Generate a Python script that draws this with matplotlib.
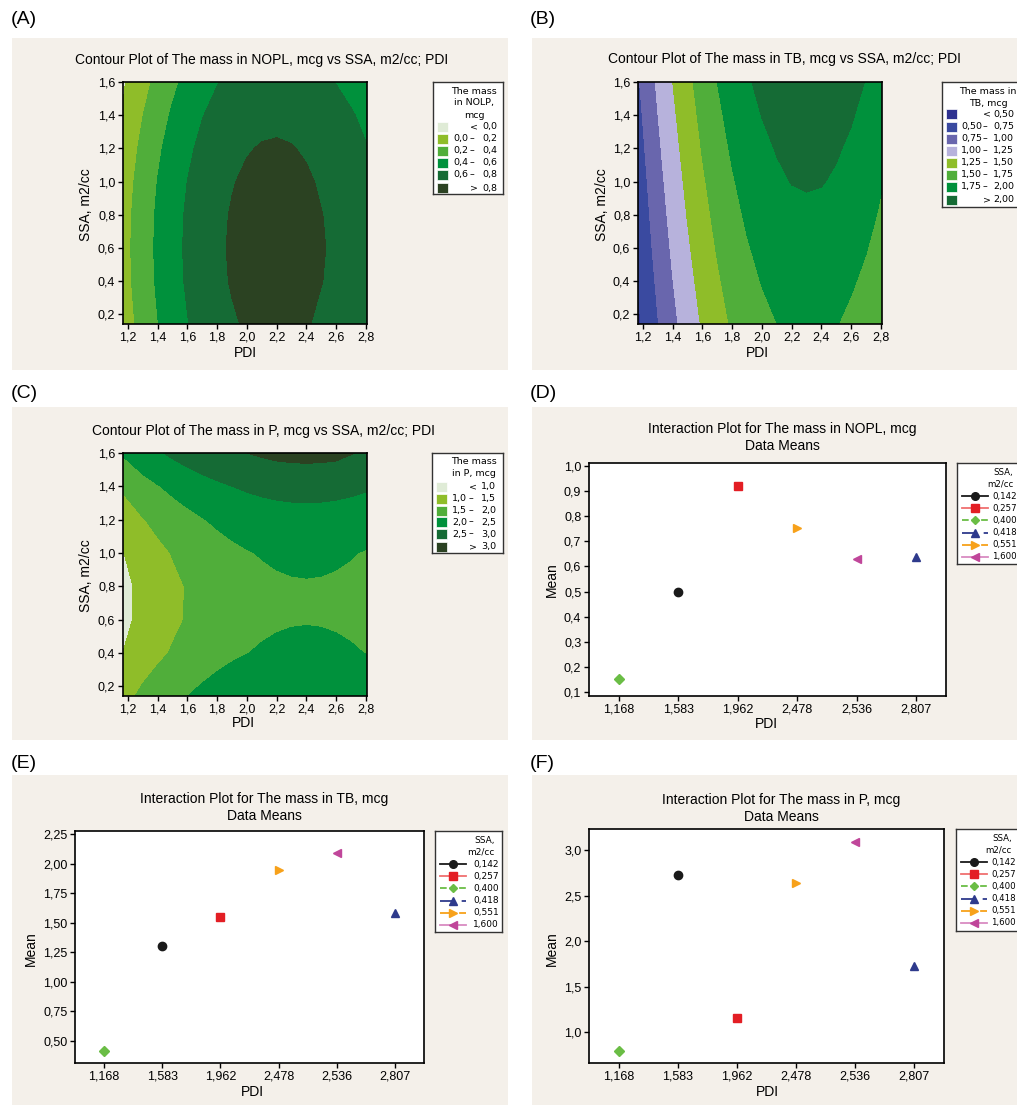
import numpy as np
import matplotlib.pyplot as plt
from matplotlib.patches import Rectangle
from matplotlib.lines import Line2D

W, H = 1017, 1106

# ---- contour surfaces on a grid ----
pdi_grid = [1.168, 1.3, 1.4, 1.5, 1.6, 1.7, 1.8, 1.9, 2.0,
            2.1, 2.2, 2.3, 2.4, 2.5, 2.6, 2.7, 2.807]
ssa_grid = [0.142, 0.4, 0.6, 0.8, 1.0, 1.2, 1.4, 1.6]

nopl_grid = [
    [0.091, 0.273, 0.394, 0.500, 0.592, 0.670, 0.733, 0.782, 0.817, 0.837, 0.843, 0.834, 0.811, 0.774, 0.737, 0.691, 0.630],
    [0.121, 0.303, 0.424, 0.530, 0.622, 0.700, 0.763, 0.812, 0.847, 0.867, 0.873, 0.864, 0.841, 0.804, 0.767, 0.721, 0.645],
    [0.128, 0.310, 0.431, 0.537, 0.629, 0.707, 0.770, 0.819, 0.854, 0.874, 0.880, 0.871, 0.848, 0.811, 0.774, 0.728, 0.650],
    [0.121, 0.303, 0.424, 0.530, 0.622, 0.700, 0.763, 0.812, 0.847, 0.867, 0.873, 0.864, 0.841, 0.804, 0.767, 0.721, 0.650],
    [0.100, 0.282, 0.403, 0.509, 0.601, 0.679, 0.742, 0.791, 0.826, 0.846, 0.852, 0.843, 0.820, 0.783, 0.746, 0.700, 0.640],
    [0.064, 0.246, 0.367, 0.473, 0.565, 0.643, 0.706, 0.755, 0.790, 0.810, 0.816, 0.807, 0.784, 0.747, 0.710, 0.664, 0.605],
    [0.014, 0.196, 0.317, 0.423, 0.515, 0.593, 0.656, 0.705, 0.740, 0.760, 0.766, 0.757, 0.734, 0.697, 0.660, 0.614, 0.560],
    [-0.02, 0.132, 0.253, 0.359, 0.451, 0.529, 0.592, 0.641, 0.676, 0.696, 0.702, 0.693, 0.670, 0.633, 0.595, 0.550, 0.500],
]
tb_grid = [
    [0.460, 0.737, 0.936, 1.114, 1.272, 1.409, 1.525, 1.620, 1.695, 1.748, 1.781, 1.794, 1.786, 1.757, 1.707, 1.642, 1.550],
    [0.510, 0.791, 0.992, 1.172, 1.331, 1.469, 1.587, 1.683, 1.758, 1.813, 1.846, 1.859, 1.851, 1.821, 1.771, 1.710, 1.620],
    [0.545, 0.832, 1.035, 1.216, 1.377, 1.516, 1.634, 1.731, 1.808, 1.862, 1.896, 1.909, 1.900, 1.871, 1.820, 1.759, 1.670],
    [0.575, 0.873, 1.077, 1.260, 1.422, 1.563, 1.682, 1.780, 1.857, 1.912, 1.946, 1.959, 1.950, 1.921, 1.869, 1.809, 1.720],
    [0.607, 0.912, 1.119, 1.304, 1.467, 1.609, 1.729, 1.828, 1.906, 1.967, 2.006, 2.019, 2.010, 1.975, 1.919, 1.853, 1.760],
    [0.645, 0.953, 1.161, 1.348, 1.513, 1.656, 1.777, 1.877, 1.955, 2.011, 2.046, 2.059, 2.050, 2.020, 1.968, 1.899, 1.800],
    [0.684, 0.994, 1.204, 1.392, 1.558, 1.702, 1.825, 1.925, 2.004, 2.061, 2.096, 2.109, 2.100, 2.070, 2.017, 1.943, 1.840],
    [0.725, 1.037, 1.248, 1.437, 1.605, 1.750, 1.873, 1.974, 2.053, 2.111, 2.146, 2.159, 2.150, 2.119, 2.067, 1.992, 1.880],
]
p_grid = [
    [1.344, 1.597, 1.744, 1.877, 1.996, 2.101, 2.192, 2.269, 2.332, 2.381, 2.416, 2.437, 2.444, 2.437, 2.416, 2.381, 2.328],
    [1.004, 1.257, 1.404, 1.537, 1.656, 1.761, 1.852, 1.929, 1.992, 2.041, 2.076, 2.097, 2.104, 2.097, 2.076, 2.041, 1.988],
    [0.878, 1.131, 1.278, 1.411, 1.530, 1.635, 1.726, 1.803, 1.866, 1.915, 1.950, 1.971, 1.978, 1.971, 1.950, 1.915, 1.862],
    [0.872, 1.125, 1.272, 1.405, 1.524, 1.629, 1.720, 1.797, 1.860, 1.909, 1.944, 1.965, 1.972, 1.965, 1.944, 1.909, 1.856],
    [0.986, 1.239, 1.386, 1.519, 1.638, 1.743, 1.834, 1.911, 1.974, 2.023, 2.058, 2.079, 2.086, 2.079, 2.058, 2.023, 1.970],
    [1.220, 1.473, 1.620, 1.753, 1.872, 1.977, 2.068, 2.145, 2.208, 2.257, 2.292, 2.313, 2.320, 2.313, 2.292, 2.257, 2.204],
    [1.574, 1.827, 1.974, 2.107, 2.226, 2.331, 2.422, 2.499, 2.562, 2.611, 2.646, 2.667, 2.674, 2.667, 2.646, 2.611, 2.558],
    [2.048, 2.301, 2.448, 2.581, 2.700, 2.805, 2.880, 2.950, 3.000, 3.060, 3.110, 3.135, 3.145, 3.135, 3.110, 3.020, 2.930],
]

nopl_levels = [0.0, 0.2, 0.4, 0.6, 0.8]
tb_levels = [0.50, 0.75, 1.00, 1.25, 1.50, 1.75, 2.00]
p_levels = [1.0, 1.5, 2.0, 2.5, 3.0]

green_colors = ['#dfebd6', '#8fbd29', '#50ae3a', '#00913c', '#156b35', '#2b4222']
tb_colors = ['#2e3190', '#3a4aa0', '#6966ad', '#b7b2dc', '#8fbd29', '#50ae3a', '#00913c', '#156b35']

# ---- interaction plot means ----
pdi_labels = ['1,168', '1,583', '1,962', '2,478', '2,536', '2,807']
ssa_labels = ['0,142', '0,257', '0,400', '0,418', '0,551', '1,600']
ssa_pdi_pos = [2, 3, 1, 6, 4, 5]   # which PDI level each SSA level sits at
nopl_means = [0.50, 0.92, 0.15, 0.637, 0.755, 0.628]
tb_means = [1.30, 1.553, 0.413, 1.584, 1.951, 2.089]
p_means = [2.733, 1.158, 0.791, 1.733, 2.645, 3.095]

marker_colors = ['#1a1a1a', '#e31e24', '#6abd45', '#2e3a8c', '#f7a11a', '#c0469a']
line_colors = ['#1a1a1a', '#f07070', '#6abd45', '#2e3a8c', '#f7a11a', '#d98bc2']
markers = ['o', 's', 'D', '^', '>', '<']
marker_sizes = [6, 6, 5, 6, 6, 6]
line_styles = ['-', '-', '--', (0, (8, 4)), '-.', '-']

BG = '#f4f0ea'
plt.rcParams['font.family'] = ['Liberation Sans', 'DejaVu Sans']


def box(x0, y0, x1, y1):
    return [x0 / W, 1 - y1 / H, (x1 - x0) / W, (y1 - y0) / H]


def ftext(fig, x, y, s, **kw):
    fig.text(x / W, 1 - y / H, s, **kw)


def comma(v, nd):
    return f"{v:.{nd}f}".replace('.', ',')


def style_axes(ax):
    for sp in ax.spines.values():
        sp.set_linewidth(1.2)
    ax.tick_params(labelsize=9, length=3.5, width=1, direction='out', pad=2)


def contour_panel(fig, rect, grid, levels, colors):
    ax = fig.add_axes(box(*rect))
    X, Y = np.meshgrid(pdi_grid, ssa_grid)
    ax.contourf(X, Y, np.array(grid), levels=levels, colors=colors, extend='both')
    ax.set_xlim(1.168, 2.807)
    ax.set_ylim(0.142, 1.6)
    xt = np.arange(1.2, 2.81, 0.2)
    yt = np.arange(0.2, 1.61, 0.2)
    ax.set_xticks(xt)
    ax.set_xticklabels([comma(v, 1) for v in xt])
    ax.set_yticks(yt)
    ax.set_yticklabels([comma(v, 1) for v in yt])
    style_axes(ax)
    return ax


def legend_axes(fig, rect):
    x0, y0, x1, y1 = rect
    ax = fig.add_axes(box(*rect))
    ax.set_xlim(0, x1 - x0)
    ax.set_ylim(y1 - y0, 0)
    ax.set_xticks([])
    ax.set_yticks([])
    ax.set_facecolor('white')
    for sp in ax.spines.values():
        sp.set_linewidth(1.0)
        sp.set_color('#333333')
    return ax


def contour_legend(fig, rect, title, levels, colors, nd, ys, xcols):
    ax = legend_axes(fig, rect)
    kw = dict(va='center', fontsize=6.8, family='DejaVu Sans')
    tx, lines, tys = title
    for s, ty in zip(lines, tys):
        ax.text(tx, ty, s, ha='center', **kw)
    low_x, dash_x, high_x = xcols
    labels = [('<', comma(levels[0], nd))]
    for a, b in zip(levels[:-1], levels[1:]):
        labels.append((comma(a, nd), comma(b, nd)))
    labels.append(('>', comma(levels[-1], nd)))
    for (a, b), c, y in zip(labels, colors, ys):
        ax.add_patch(Rectangle((4, y - 5), 11, 10, facecolor=c, edgecolor='white', lw=0.5))
        if a in ('<', '>'):
            ax.text(dash_x + 2, y, a, ha='center', **kw)
        else:
            ax.text(low_x, y, a, ha='left', **kw)
            ax.text(dash_x, y, '\u2013', ha='center', **kw)
        ax.text(high_x, y, b, ha='right', **kw)


def interaction_panel(fig, rect, means, ylim, yticks, nd):
    ax = fig.add_axes(box(*rect))
    ax.set_facecolor('white')
    for i in range(len(ssa_labels)):
        ax.plot([ssa_pdi_pos[i]], [means[i]], linestyle=line_styles[i], color=line_colors[i],
                marker=markers[i], markersize=marker_sizes[i], markerfacecolor=marker_colors[i],
                markeredgecolor=marker_colors[i])
    ax.set_xlim(0.5, 6.5)
    ax.set_ylim(*ylim)
    ax.set_xticks(range(1, 7))
    ax.set_xticklabels(pdi_labels)
    ax.set_yticks(yticks)
    ax.set_yticklabels([comma(v, nd) for v in yticks])
    style_axes(ax)
    return ax


def interaction_legend(fig, rect, title_x, label_x, fs):
    ax = legend_axes(fig, rect)
    kw = dict(fontsize=fs, family='DejaVu Sans', va='center')
    ax.text(title_x, 9, 'SSA,', ha='right', **kw)
    ax.text(title_x, 21, 'm2/cc', ha='right', **kw)
    for i, lab in enumerate(ssa_labels):
        y = 33 + 12.2 * i
        ax.add_line(Line2D([5, 31], [y, y], color=line_colors[i], linestyle=line_styles[i], lw=1.3))
        ax.plot([18], [y], marker=markers[i], markersize=marker_sizes[i] - 0.5,
                color=marker_colors[i], linestyle='none')
        ax.text(label_x, y, lab, ha='left', **kw)


fig = plt.figure(figsize=(W / 100, H / 100), dpi=100)

panels = [(12, 38, 508, 370), (532, 38, 1017, 370), (12, 407, 508, 740),
          (532, 407, 1017, 740), (12, 775, 508, 1105), (532, 775, 1017, 1105)]
for (x0, y0, x1, y1) in panels:
    fig.add_artist(Rectangle((x0 / W, 1 - y1 / H), (x1 - x0) / W, (y1 - y0) / H,
                             transform=fig.transFigure, facecolor=BG, edgecolor='none', zorder=-1))

for lab, x, y in [('(A)', 11, 19), ('(B)', 530, 19), ('(C)', 11, 394),
                  ('(D)', 530, 394), ('(E)', 11, 763), ('(F)', 530, 764)]:
    ftext(fig, x, y, lab, fontsize=14, ha='left', va='center')

title_kw = dict(fontsize=10, ha='center', va='center', linespacing=1.3)
label_kw = dict(fontsize=10, ha='center', va='center')

# (A)
contour_panel(fig, (123, 82, 367, 324), nopl_grid, nopl_levels, green_colors)
ftext(fig, 262, 60, 'Contour Plot of The mass in NOPL, mcg vs SSA, m2/cc; PDI', **title_kw)
ftext(fig, 245, 353, 'PDI', **label_kw)
ftext(fig, 86, 205, 'SSA, m2/cc', rotation=90, **label_kw)
contour_legend(fig, (433, 82, 503, 194), (41, ['The mass', 'in NOLP,', 'mcg'], [9, 21, 33]),
               nopl_levels, green_colors, 1, [45, 57, 69, 81, 93, 106], (20, 39, 64))

# (B)
contour_panel(fig, (638, 82, 882, 324), tb_grid, tb_levels, tb_colors)
ftext(fig, 784, 59, 'Contour Plot of The mass in TB, mcg vs SSA, m2/cc; PDI', **title_kw)
ftext(fig, 757, 353, 'PDI', **label_kw)
ftext(fig, 602, 205, 'SSA, m2/cc', rotation=90, **label_kw)
contour_legend(fig, (942, 82, 1022, 207), (46, ['The mass in', 'TB, mcg'], [9, 21]),
               tb_levels, tb_colors, 2, [32, 44.5, 56.5, 68.5, 80.5, 92.5, 104.5, 117.5],
               (19, 43, 72))

# (C)
contour_panel(fig, (123, 453, 367, 696), p_grid, p_levels, green_colors)
ftext(fig, 263, 431, 'Contour Plot of The mass in P, mcg vs SSA, m2/cc; PDI', **title_kw)
ftext(fig, 243, 723, 'PDI', **label_kw)
ftext(fig, 86, 576, 'SSA, m2/cc', rotation=90, **label_kw)
contour_legend(fig, (432, 453, 503, 553), (42, ['The mass', 'in P, mcg'], [9, 21]),
               p_levels, green_colors, 1, [34, 46, 58, 69, 81, 94], (20, 39, 64))

# (D)
interaction_panel(fig, (589, 463, 946, 696), nopl_means, (0.083, 1.013),
                  np.arange(0.1, 1.01, 0.1), 1)
ftext(fig, 782, 437.5, 'Interaction Plot for The mass in NOPL, mcg\nData Means', **title_kw)
ftext(fig, 766, 724, 'PDI', **label_kw)
ftext(fig, 552, 580, 'Mean', rotation=90, **label_kw)
interaction_legend(fig, (957, 463, 1027, 564), 56, 35, 6.2)

# (E)
interaction_panel(fig, (75, 831, 424, 1063), tb_means, (0.311, 2.278),
                  np.arange(0.5, 2.26, 0.25), 2)
ftext(fig, 264, 807.5, 'Interaction Plot for The mass in TB, mcg\nData Means', **title_kw)
ftext(fig, 252, 1092, 'PDI', **label_kw)
ftext(fig, 31, 949, 'Mean', rotation=90, **label_kw)
interaction_legend(fig, (435, 831, 502, 932), 60, 38, 6.5)

# (F)
interaction_panel(fig, (589, 829, 944, 1063), p_means, (0.663, 3.234),
                  np.arange(1.0, 3.01, 0.5), 1)
ftext(fig, 781, 808.5, 'Interaction Plot for The mass in P, mcg\nData Means', **title_kw)
ftext(fig, 767, 1092, 'PDI', **label_kw)
ftext(fig, 552, 949, 'Mean', rotation=90, **label_kw)
interaction_legend(fig, (956, 829, 1026, 931), 56, 35, 6.2)

fig.savefig('out.png', dpi=100, facecolor='white')
